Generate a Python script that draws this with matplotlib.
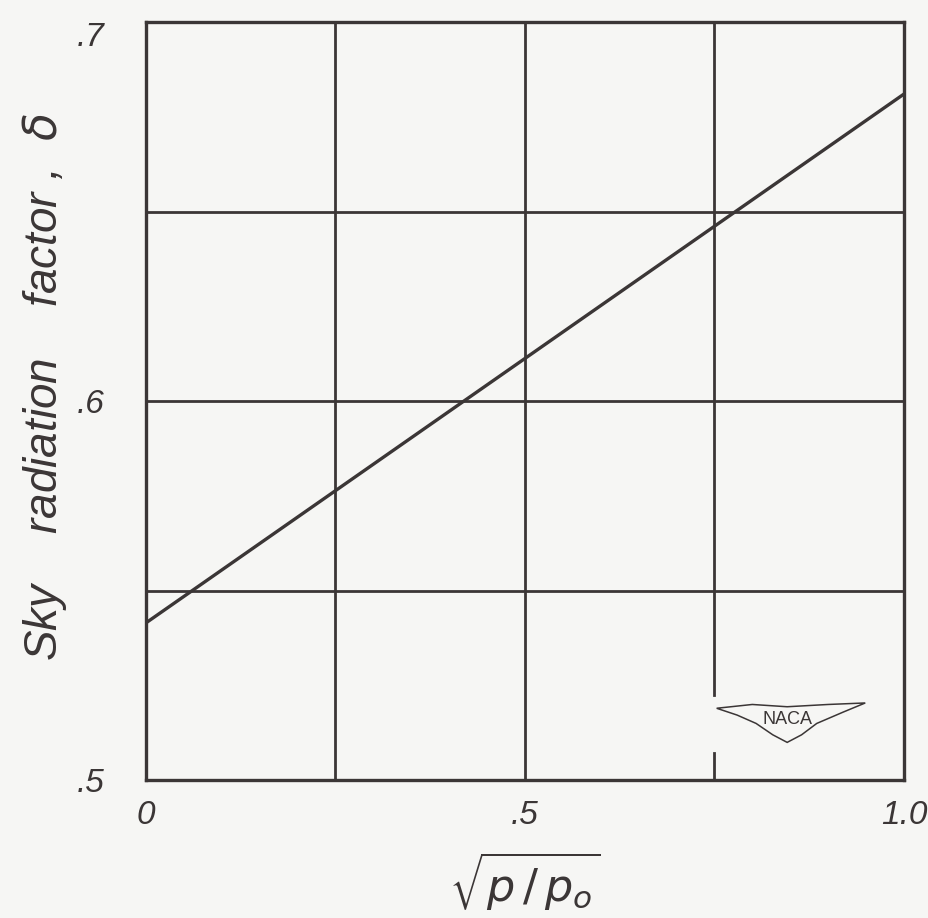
import matplotlib
matplotlib.use('Agg')
import matplotlib.pyplot as plt
from matplotlib.patches import Polygon

# 数据: sqrt(p/p0) 与天空辐射因子
x_vals = [0.0, 1.0]
delta_vals = [0.5415, 0.681]

x_ticks = [0.0, 0.5, 1.0]
x_tick_labels = ['0', '.5', '1.0']
y_ticks = [0.5, 0.6, 0.7]
y_tick_labels = ['.5', '.6', '.7']
x_grid = [0.25, 0.5, 0.75]
y_grid = [0.55, 0.6, 0.65]

ink = '#3b3636'
paper = '#f6f6f4'
font = ['Liberation Sans', 'DejaVu Sans']

fig = plt.figure(figsize=(9.29, 9.18), dpi=100, facecolor=paper)
ax = fig.add_axes([0.157, 0.150, 0.816, 0.826], facecolor=paper)
ax.set_xlim(0, 1.0)
ax.set_ylim(0.5, 0.7)

# 网格线, 0.75 处在 NACA 标志附近断开
for gx in x_grid:
    if gx == 0.75:
        ax.axvline(gx, ymin=0.0, ymax=0.036, color=ink, lw=2.0)
        ax.axvline(gx, ymin=0.113, ymax=1.0, color=ink, lw=2.0)
    else:
        ax.axvline(gx, color=ink, lw=2.0)
for gy in y_grid:
    ax.axhline(gy, color=ink, lw=2.0)

ax.plot(x_vals, delta_vals, color=ink, lw=2.4, solid_capstyle='butt')

for s in ax.spines.values():
    s.set_color(ink)
    s.set_linewidth(2.4)

ax.set_xticks(x_ticks)
ax.set_xticklabels(x_tick_labels)
ax.set_yticks(y_ticks)
ax.set_yticklabels(y_tick_labels)
ax.tick_params(length=0, colors=ink, labelsize=24)
ax.tick_params(axis='x', pad=14)
ax.tick_params(axis='y', pad=30)
for lab in ax.get_xticklabels() + ax.get_yticklabels():
    lab.set_family(font)
    lab.set_style('italic')
ax.yaxis.get_ticklabels()[2].set_va('top')

fig.text(0.048, 0.578, 'Sky    radiation    factor ,  $\\delta$', rotation=90,
         ha='center', va='center', fontsize=33, color=ink,
         family=font, style='italic')
ax.set_xlabel('$\\sqrt{p\\,/\\,p_o}$', fontsize=32, color=ink, labelpad=14)

# NACA 标志
wing = Polygon([(0.753, 0.095), (0.80, 0.100), (0.846, 0.097), (0.90, 0.100),
                (0.949, 0.102), (0.92, 0.090), (0.885, 0.075), (0.865, 0.060),
                (0.846, 0.050), (0.827, 0.060), (0.805, 0.075), (0.78, 0.086)],
               closed=True, transform=ax.transAxes,
               facecolor='none', edgecolor=ink, lw=1.1)
ax.add_patch(wing)
ax.text(0.846, 0.080, 'NACA', transform=ax.transAxes, ha='center', va='center',
        fontsize=13, color=ink, family=font)

fig.savefig('out.png', dpi=100, facecolor=paper)
